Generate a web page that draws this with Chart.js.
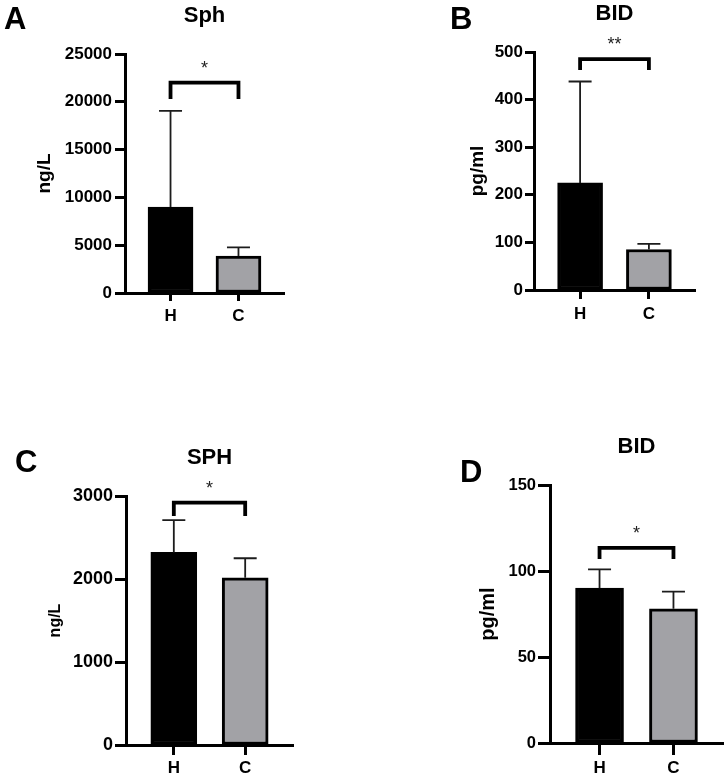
<!DOCTYPE html>
<html>
<head>
<meta charset="utf-8">
<title>Sph / BID</title>
<script src="https://cdn.jsdelivr.net/npm/chart.js@4.4.1/dist/chart.umd.min.js"></script>
<style>
  html, body { margin: 0; padding: 0; background: #fff; }
  #figure { position: relative; width: 728px; height: 780px; overflow: hidden; }
  #figure canvas { position: absolute; }
</style>
</head>
<body>
<div id="figure">
  <canvas id="panelA" width="364" height="390" style="left:0;top:0"></canvas>
  <canvas id="panelB" width="364" height="390" style="left:364px;top:0"></canvas>
  <canvas id="panelC" width="364" height="390" style="left:0;top:390px"></canvas>
  <canvas id="panelD" width="364" height="390" style="left:364px;top:390px"></canvas>
</div>
<script>
'use strict';

// ── Data ──────────────────────────────────────────────────────────────────
var groups = ['H', 'C'];

// A: Sph (ng/L)
var sphA      = [9000, 3870];
var sphAErr   = [10050, 910];
var sphATicks = [0, 5000, 10000, 15000, 20000, 25000];

// B: BID (pg/ml)
var bidB      = [225, 85];
var bidBErr   = [213, 12];
var bidBTicks = [0, 100, 200, 300, 400, 500];

// C: SPH (ng/L)
var sphC      = [2320, 2015];
var sphCErr   = [390, 235];
var sphCTicks = [0, 1000, 2000, 3000];

// D: BID (pg/ml)
var bidD      = [90, 78];
var bidDErr   = [11, 10];
var bidDTicks = [0, 50, 100, 150];

// significance brackets: level of the bar, level where the legs stop, label
var sigLevels = [22000, 485, 2920, 113.5];
var sigFeet   = [20300, 462, 2760, 107];
var sigMarks  = ['*', '**', '*', '*'];

// ── Panels (layout in canvas pixels) ──────────────────────────────────────
var panels = [
    { id: 'panelA', letter: 'A', title: 'Sph', unit: 'ng/L', values: sphA, errors: sphAErr, ticks: sphATicks,
      pad: { left: 0, top: 54, right: 80, bottom: 67 }, yWidth: 125, barWidth: 45,
      yFont: 17, yTick: 10, yPad: 3, xTick: 8, xPad: 5, unitFont: 19, unitPad: 33,
      letterAt: [4, 29] },
    { id: 'panelB', letter: 'B', title: 'BID', unit: 'pg/ml', values: bidB, errors: bidBErr, ticks: bidBTicks,
      pad: { left: 0, top: 52, right: 33, bottom: 70 }, yWidth: 170, barWidth: 45,
      yFont: 17, yTick: 9, yPad: 2, xTick: 9, xPad: 5, unitFont: 19, unitPad: 102,
      letterAt: [86, 29] },
    { id: 'panelC', letter: 'C', title: 'SPH', unit: 'ng/L', values: sphC, errors: sphCErr, ticks: sphCTicks,
      pad: { left: 0, top: 106, right: 71, bottom: 5 }, yWidth: 126, barWidth: 46,
      yFont: 18, yTick: 11, yPad: 2, xTick: 10, xPad: 3, unitFont: 16, unitPad: 46,
      letterAt: [15, 82] },
    { id: 'panelD', letter: 'D', title: 'BID', unit: 'pg/ml', values: bidD, errors: bidDErr, ticks: bidDTicks,
      pad: { left: 0, top: 95, right: 5, bottom: 7 }, yWidth: 186, barWidth: 48,
      yFont: 16.5, yTick: 12, yPad: 2, xTick: 12, xPad: 3, unitFont: 20, unitPad: 112,
      letterAt: [96, 92] }
];

var FONT = '"Liberation Sans", Arial, sans-serif';
var GAP = 0.67; // distance from axis ends to the outer bars, in bar spacings

// ── Error bars, bracket, title, panel letter ──────────────────────────────
var panelDecor = {
    id: 'panelDecor',
    afterDraw: function (chart, args, o) {
        var ctx = chart.ctx;
        var y = chart.scales.y;
        var area = chart.chartArea;
        var bars = chart.getDatasetMeta(0).data;
        ctx.save();

        // error bars (upper only)
        ctx.strokeStyle = '#1c1c1c';
        ctx.lineWidth = 1.8;
        bars.forEach(function (bar, i) {
            var top = y.getPixelForValue(o.values[i] + o.errors[i]);
            ctx.beginPath();
            ctx.moveTo(bar.x, bar.y);
            ctx.lineTo(bar.x, top);
            ctx.moveTo(bar.x - 11.5, top);
            ctx.lineTo(bar.x + 11.5, top);
            ctx.stroke();
        });

        // significance bracket
        var x0 = bars[0].x, x1 = bars[1].x;
        var yb = y.getPixelForValue(o.level);
        var yf = y.getPixelForValue(o.foot);
        ctx.strokeStyle = '#000';
        ctx.lineWidth = 3.8;
        ctx.lineJoin = 'miter';
        ctx.beginPath();
        ctx.moveTo(x0, yf);
        ctx.lineTo(x0, yb);
        ctx.lineTo(x1, yb);
        ctx.lineTo(x1, yf);
        ctx.stroke();

        ctx.fillStyle = '#222';
        ctx.textAlign = 'center';
        ctx.textBaseline = 'alphabetic';
        ctx.font = '18px ' + FONT;
        ctx.fillText(o.mark, (x0 + x1) / 2, yb - 9);

        // title
        ctx.fillStyle = '#000';
        ctx.font = 'bold 22px ' + FONT;
        ctx.fillText(o.title, (area.left + area.right) / 2, area.top - 32);

        // panel letter
        ctx.textAlign = 'left';
        ctx.font = 'bold 31px ' + FONT;
        ctx.fillText(o.letter, o.letterAt[0], o.letterAt[1]);

        ctx.restore();
    }
};

// ── Charts ────────────────────────────────────────────────────────────────
function makePanel(p, idx) {
    var el = document.getElementById(p.id);
    var tickVals = p.ticks;

    return new Chart(el.getContext('2d'), {
        type: 'bar',
        data: {
            datasets: [{
                data: groups.map(function (g, i) { return { x: i + 1, y: p.values[i] }; }),
                backgroundColor: ['#000000', '#a2a2a6'],
                borderColor: '#000000',
                borderWidth: 3,
                borderSkipped: false,
                barThickness: p.barWidth
            }]
        },
        options: {
            responsive: false,
            animation: false,
            events: [],
            layout: { padding: p.pad },
            plugins: {
                legend: { display: false },
                tooltip: { enabled: false },
                panelDecor: {
                    values: p.values, errors: p.errors,
                    level: sigLevels[idx], foot: sigFeet[idx], mark: sigMarks[idx],
                    title: p.title, letter: p.letter, letterAt: p.letterAt
                }
            },
            scales: {
                x: {
                    type: 'linear',
                    offset: false,
                    min: 1 - GAP,
                    max: groups.length + GAP,
                    afterBuildTicks: function (s) {
                        s.ticks = groups.map(function (g, i) { return { value: i + 1 }; });
                    },
                    afterFit: function (s) { s.height = 30; },
                    ticks: {
                        autoSkip: false,
                        maxRotation: 0,
                        padding: p.xPad,
                        color: '#000',
                        font: { family: FONT, size: 17, weight: 'bold' },
                        callback: function (v) { return groups[v - 1]; }
                    },
                    grid: { offset: false, drawOnChartArea: false, tickLength: p.xTick, tickWidth: 3, color: '#000' },
                    border: { display: true, width: 3, color: '#000', z: 1 }
                },
                y: {
                    min: tickVals[0],
                    max: tickVals[tickVals.length - 1],
                    afterBuildTicks: function (s) {
                        s.ticks = tickVals.map(function (v) { return { value: v }; });
                    },
                    afterFit: function (s) { s.width = p.yWidth; },
                    ticks: {
                        padding: p.yPad,
                        color: '#000',
                        font: { family: FONT, size: p.yFont, weight: 'bold' },
                        callback: function (v) { return String(v); }
                    },
                    grid: { drawOnChartArea: false, tickLength: p.yTick, tickWidth: 3, color: '#000' },
                    border: { display: true, width: 3, color: '#000', z: 1 },
                    title: {
                        display: true,
                        text: p.unit,
                        color: '#000',
                        font: { family: FONT, size: p.unitFont, weight: 'bold' },
                        padding: { top: p.unitPad, bottom: 0 }
                    }
                }
            }
        },
        plugins: [panelDecor]
    });
}

panels.forEach(makePanel);
</script>
</body>
</html>
